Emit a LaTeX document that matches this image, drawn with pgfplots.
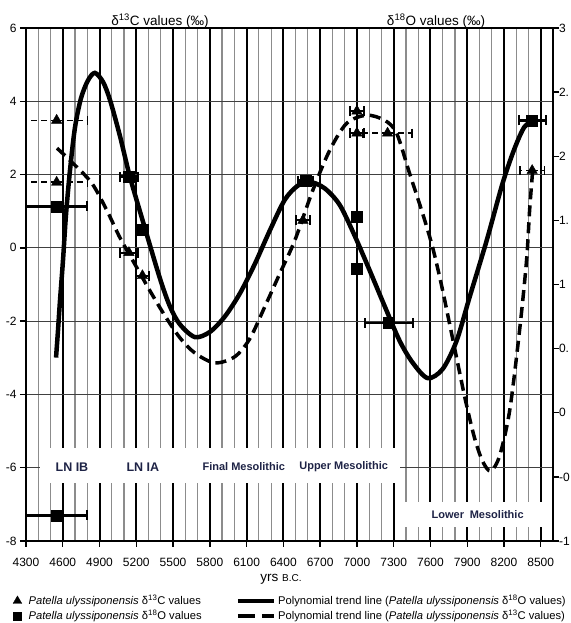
\documentclass[border=0pt]{standalone}
\usepackage{pgfplots}
\pgfplotsset{compat=1.18}
\usepackage{pgfplotstable}
\usepackage{fontspec}
\setmainfont{Liberation Sans}
\definecolor{navy}{RGB}{30,35,70}
\pgfplotsset{
  markleg/.style={legend image code/.code={\draw[##1] plot coordinates {(0pt,0pt)}; \path (9pt,0pt);}},
  lineleg/.style={legend image code/.code={\draw[##1] (0pt,0pt) -- (36pt,0pt);}},
}

% delta 13C polynomial trend (left axis)
\pgfplotstableread{
x y
4553 2.72
4683 2.31
4838 1.76
4960 1.02
5066 0.28
5172 -0.35
5311 -1.17
5433 -1.85
5555 -2.45
5678 -2.87
5841 -3.14
6004 -2.97
6126 -2.48
6248 -1.61
6371 -0.70
6493 0.20
6640 1.57
6778 2.66
6917 3.40
7080 3.62
7227 3.48
7324 3.13
7430 2.03
7536 0.94
7618 0.01
7691 -1.03
7756 -2.07
7822 -3.14
7887 -4.18
7960 -5.19
8025 -5.82
8091 -6.09
8164 -5.68
8246 -4.45
8327 -2.26
8384 -0.35
8409 1.02
8433 2.06
}\trendC

% delta 18O polynomial trend (right axis)
\pgfplotstableread{
x y
4545 0.43
4561 0.64
4577 0.87
4602 1.19
4626 1.54
4659 1.89
4699 2.22
4748 2.45
4805 2.59
4862 2.65
4928 2.58
4985 2.44
5066 2.16
5148 1.84
5270 1.44
5392 1.05
5474 0.83
5555 0.69
5678 0.59
5800 0.63
5922 0.75
6045 0.93
6167 1.16
6289 1.42
6411 1.66
6517 1.77
6615 1.80
6737 1.75
6860 1.62
6982 1.38
7104 1.11
7227 0.83
7349 0.56
7455 0.39
7577 0.27
7699 0.34
7813 0.56
7919 0.90
8058 1.34
8189 1.79
8286 2.06
8368 2.23
8450 2.28
}\trendO

% triangles, delta 13C, long error bars
\pgfplotstableread{
x y ex
4550 3.48 250
4550 1.79 250
7250 3.13 200
8430 2.11 100
}\triA
% triangles, delta 13C, short error bars
\pgfplotstableread{
x y ex
5140 -0.13 70
5250 -0.76 50
6560 0.75 60
7000 3.73 60
7000 3.13 60
}\triB
% squares, delta 18O
\pgfplotstableread{
x y ex
4550 1.61 250
4550 -0.80 250
7260 0.70 195
8430 2.28 110
5140 1.84 70
5250 1.43 40
6580 1.81 60
7000 1.53 40
7000 1.12 40
}\sqA

\begin{document}
\begin{tikzpicture}
\path[use as bounding box] (0pt,0pt) rectangle (570pt,623pt);
\begin{axis}[
  at={(26pt,82pt)}, anchor=south west,
  scale only axis, width=527pt, height=513pt,
  xmin=4300, xmax=8600, ymin=-8, ymax=6,
  xtick={4300,4600,...,8500},
  minor x tick num=2,
  ytick={-8,-6,...,6},
  xtick pos=bottom, ytick pos=left,
  tick align=outside,
  major tick length=6pt, minor tick length=0pt,
  xmajorgrids, xminorgrids, ymajorgrids,
  major x grid style={black, line width=2pt},
  minor x grid style={black!45, line width=1.2pt},
  major y grid style={black!75, line width=0.8pt},
  axis line style={line width=1.8pt},
  every tick/.style={black, line width=1.4pt},
  tick label style={font=\fontsize{12}{14}\selectfont},
  xticklabel style={yshift=-8pt},
  /pgf/number format/assume math mode=true,
  /pgf/number format/1000 sep={},
  scaled x ticks=false,
]
\fill[white] (axis cs:4414,-5.46) rectangle (axis cs:7349,-6.42);
\fill[white] (axis cs:7365,-6.94) rectangle (axis cs:8572,-7.63);
\addplot[black, line width=3.5pt, dash pattern=on 11pt off 6pt, smooth, forget plot] table[x=x,y=y]{\trendC};
\addplot[only marks, mark=triangle*, mark size=6pt, black, forget plot,
  error bars/.cd, x dir=both, x explicit, error mark=|,
  error bar style={line width=1.6pt, dash pattern=on 6pt off 4pt},
  error mark options={black, line width=1.4pt, mark size=4.5pt, solid}]
  table[x=x, y=y, x error=ex]{\triA};
\addplot[only marks, mark=triangle*, mark size=6pt, black, forget plot,
  error bars/.cd, x dir=both, x explicit, error mark=|,
  error bar style={line width=2pt},
  error mark options={black, line width=2pt, mark size=5pt}]
  table[x=x, y=y, x error=ex]{\triB};
\node[font=\bfseries\fontsize{12.5}{14}\selectfont, text=navy] at (axis cs:4675,-5.98) {LN IB};
\node[font=\bfseries\fontsize{12.5}{14}\selectfont, text=navy] at (axis cs:5254,-5.98) {LN IA};
\node[font=\bfseries\fontsize{11}{13}\selectfont, text=navy] at (axis cs:6077,-5.98) {Final Mesolithic};
\node[font=\bfseries\fontsize{11}{13}\selectfont, text=navy] at (axis cs:6892,-5.98) {Upper Mesolithic};
\node[font=\bfseries\fontsize{11}{13}\selectfont, text=navy] at (axis cs:7985,-7.27) {Lower\hspace{0.25em} Mesolithic};
\end{axis}

\begin{axis}[
  at={(26pt,82pt)}, anchor=south west,
  scale only axis, width=527pt, height=513pt,
  xmin=4300, xmax=8600, ymin=-1, ymax=3,
  axis x line=none, axis y line*=right,
  ytick={-1,-0.5,...,3},
  yticklabels={-1,-0,0,0.,1,1.,2,2.,3},
  tick align=outside, major tick length=6pt,
  axis line style={line width=1.8pt},
  every tick/.style={black, line width=1.4pt},
  tick label style={font=\fontsize{12}{14}\selectfont},
  yticklabel style={xshift=-3.5pt},
  legend columns=2, transpose legend, legend cell align=left,
  legend style={at={(-0.0305,-0.098)}, anchor=north west, draw=none, fill=none,
    font=\fontsize{11.2}{13}\selectfont, row sep=0pt,
    /tikz/every even column/.append style={column sep=32pt}},
]
\addplot[black, line width=4.5pt, smooth, forget plot] table[x=x,y=y]{\trendO};
\addplot[only marks, mark=square*, mark size=5.5pt, black, forget plot,
  error bars/.cd, x dir=both, x explicit, error mark=|,
  error bar style={line width=2.8pt},
  error mark options={black, line width=2pt, mark size=5pt}]
  table[x=x, y=y, x error=ex]{\sqA};

\addlegendimage{black, mark=triangle*, mark size=5pt, markleg}
\addlegendentry{\textit{Patella ulyssiponensis} δ\textsuperscript{13}C values}
\addlegendimage{black, mark=square*, mark size=4.2pt, markleg}
\addlegendentry{\textit{Patella ulyssiponensis} δ\textsuperscript{18}O values}
\addlegendimage{black, line width=4.5pt, lineleg}
\addlegendentry{Polynomial trend line (\textit{Patella ulyssiponensis} δ\textsuperscript{18}O values)}
\addlegendimage{black, line width=3.5pt, dash pattern=on 17pt off 7pt, lineleg}
\addlegendentry{Polynomial trend line (\textit{Patella ulyssiponensis} δ\textsuperscript{13}C values)}
\end{axis}

\node[font=\fontsize{13.5}{15}\selectfont] at (160pt,602pt) {δ\textsuperscript{13}C values (‰)};
\node[font=\fontsize{13.5}{15}\selectfont] at (436pt,602pt) {δ\textsuperscript{18}O values (‰)};
\node[anchor=base] at (281pt,41pt) {\fontsize{13.5}{15}\selectfont yrs \fontsize{10}{12}\selectfont B.C.};
\end{tikzpicture}
\end{document}
